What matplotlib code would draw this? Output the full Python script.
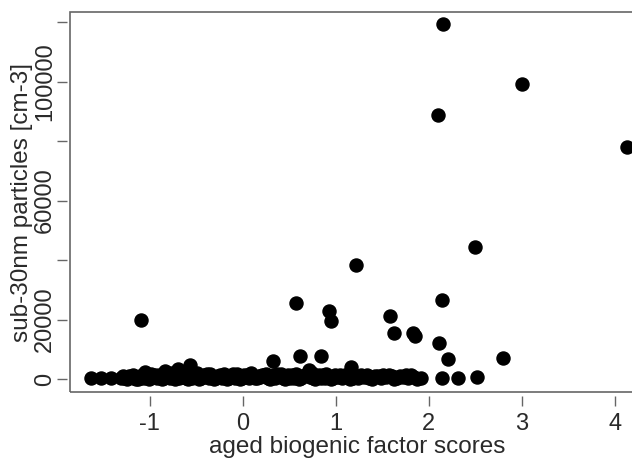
import matplotlib
matplotlib.use("Agg")
import matplotlib.pyplot as plt
from matplotlib.patches import Rectangle

plt.rcParams['font.family'] = ['Liberation Sans', 'DejaVu Sans']

# values: factor score vs particle count
# the dense band close to zero
band_x = [-1.63, -1.52, -1.41, -1.31, -1.27, -1.24, -1.20, -1.17, -1.13, -1.10,
          -1.06, -1.03, -0.99, -0.96, -0.92, -0.89, -0.85, -0.82, -0.78, -0.75,
          -0.71, -0.68, -0.64, -0.61, -0.57, -0.54, -0.50, -0.47, -0.43, -0.40,
          -0.36, -0.33, -0.29, -0.26, -0.22, -0.19, -0.15, -0.12, -0.08, -0.05,
          -0.01, 0.03, 0.07, 0.11, 0.15, 0.19, 0.23, 0.27, 0.31, 0.35,
          0.39, 0.43, 0.47, 0.51, 0.55, 0.59, 0.63, 0.67, 0.72, 0.76,
          0.80, 0.84, 0.88, 0.92, 0.97, 1.02, 1.07, 1.12, 1.18, 1.24,
          1.30, 1.36, 1.42, 1.48, 1.54, 1.60, 1.66, 1.72, 1.78, 1.84, 1.92]
band_y = [300, 200, 300, 200, 400, 100, 600, 300, 800, 200,
          500, 1100, 300, 700, 200, 900, 400, 1300, 300, 800,
          1000, 200, 1500, 400, 1200, 300, 900, 100, 600, 1000,
          200, 700, 400, 1100, 300, 600, 200, 900, 500, 1200,
          300, 800, 200, 1000, 400, 600, 1300, 200, 700, 400,
          900, 300, 1100, 500, 200, 800, 400, 1200, 600, 300,
          900, 500, 200, 1000, 400, 700, 300, 900, 500, 200,
          800, 400, 1000, 300, 600, 900, 200, 700, 400, 600, 300]

# second and third rows so the band gets its thickness
band2_x = [-1.22, -1.15, -1.08, -1.01, -0.94, -0.87, -0.80, -0.73, -0.66, -0.59,
           -0.52, -0.45, -0.38, -0.31, -0.24, -0.17, -0.10, -0.03, 0.05, 0.13,
           0.21, 0.29, 0.37, 0.45, 0.53, 0.61, 0.69, 0.78, 0.86, 0.95,
           1.04, 1.15, 1.27, 1.39, 1.51, 1.63, 1.75, 1.87]
band2_y = [1000, 0, 1400, 100, 1500, 0, 1700, 100, 1800, 0,
           1600, 200, 1700, 0, 1500, 100, 1600, 0, 1500, 200,
           1400, 0, 1600, 100, 1500, 0, 1700, 100, 1400, 0,
           1300, 100, 1500, 0, 1200, 100, 1300, 0]

band3_x = [-1.29, -1.18, -1.12, -0.98, -0.90, -0.77, -0.70, -0.62, -0.49, -0.42,
           -0.35, -0.27, -0.20, -0.13, -0.06, 0.01, 0.09, 0.17, 0.25, 0.33,
           0.41, 0.49, 0.57, 0.65, 0.74, 0.82, 0.90, 0.99, 1.10, 1.21,
           1.33, 1.45, 1.57, 1.69, 1.81]
band3_y = [900, 1500, 0, 1800, 1200, 2100, 1700, 800, 1900, 1300,
           1600, 600, 1800, 1100, 1700, 1400, 1900, 900, 1600, 1200,
           1800, 1300, 1600, 1000, 2000, 1200, 1700, 1400, 1500, 1100,
           1400, 900, 1300, 1100, 1200]

# points that stand out from the band
top_x = [2.15, 3.00, 2.10, 4.13, 2.49, 1.22, 0.57, 2.14, 0.93, 0.95,
         -1.09, 1.58, 1.62, 1.83, 1.85, 2.11, 2.21, 2.80, 0.33, 0.62,
         0.84, 2.14, 2.31, 2.52, 1.16, 0.71, -0.69, -0.83, -1.05, -0.57]
top_y = [119300, 99100, 88700, 77900, 44300, 38300, 25500, 26500, 22800, 19500,
         19800, 21200, 15500, 15600, 14300, 12100, 6700, 7000, 6000, 7800,
         7900, 300, 300, 700, 3900, 3000, 3400, 2700, 2500, 4600]

y_ticks = [0, 20000, 40000, 60000, 80000, 100000, 120000]
y_labels = ['0', '20000', '', '60000', '', '100000', '']
x_ticks = [-1, 0, 1, 2, 3, 4]


def main():
    fig = plt.figure(figsize=(6.32, 4.61), dpi=100)
    ax = fig.add_axes([70 / 632, 69 / 461, 575 / 632, 380 / 461])

    for xs, ys in [(band_x, band_y), (band2_x, band2_y), (band3_x, band3_y), (top_x, top_y)]:
        ax.plot(xs, ys, 'o', color='black', markersize=9.4, linestyle='none')

    ax.set_xlim(-1.854, 4.32)
    ax.set_ylim(-4370, 123400)

    # R-like box, ticks set a little off the frame
    for side in ['left', 'bottom', 'right', 'top']:
        ax.spines[side].set_color('none')
    ax.spines['left'].set_position(('outward', 2))
    ax.spines['bottom'].set_position(('outward', 3))
    ax.add_patch(Rectangle((0, 0), 1, 1, transform=ax.transAxes, fill=False,
                           edgecolor='#666666', linewidth=1.2, clip_on=False))

    ax.set_xticks(x_ticks)
    ax.set_xticklabels([str(v) for v in x_ticks])
    ax.set_yticks(y_ticks)
    ax.set_yticklabels(y_labels, rotation=90, va='center')
    ax.tick_params(axis='both', direction='out', length=7, width=1,
                   color='#666666', labelsize=17, labelcolor='#2a2a2a')
    ax.tick_params(axis='x', pad=5)
    ax.tick_params(axis='y', pad=1)

    ax.set_xlabel("aged biogenic factor scores", fontsize=17.5, color='#2a2a2a', labelpad=1)
    ax.set_ylabel("sub-30nm particles [cm-3]", fontsize=17.5, color='#2a2a2a', labelpad=1)

    fig.savefig("out.png", dpi=100)


if __name__ == '__main__':
    main()
